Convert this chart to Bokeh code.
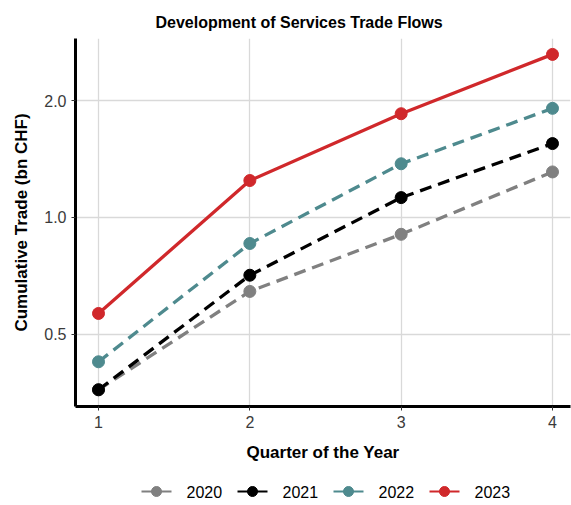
from bokeh.plotting import figure
from bokeh.layouts import column
from bokeh.models import FixedTicker, PrintfTickFormatter, Range1d
from bokeh.core.properties import value
from bokeh.embed import file_html
from bokeh.resources import INLINE

quarters = [1, 2, 3, 4]
years = ["2020", "2021", "2022", "2023"]
v2020 = [0.36, 0.645, 0.905, 1.31]
v2021 = [0.36, 0.71, 1.125, 1.55]
v2022 = [0.425, 0.857, 1.375, 1.91]
v2023 = [0.566, 1.245, 1.85, 2.63]
series = [v2020, v2021, v2022, v2023]
colors = ["#808080", "#000000", "#4E8A8E", "#D0282B"]
dashes = ["12 7", "12 7", "12 7", "solid"]
y_ticks = [0.5, 1.0, 2.0]
x_ticks = [1, 2, 3, 4]

FONT = "Liberation Sans"

p = figure(width=571, height=470, y_axis_type="log",
           x_range=Range1d(0.848, 4.119), y_range=Range1d(0.326, 2.89),
           output_backend="svg", toolbar_location=None,
           min_border_left=75, min_border_right=1, min_border_top=38, min_border_bottom=64,
           title="Development of Services Trade Flows")
p.title.align = "left"
p.title.offset = 80
p.title.standoff = 15
p.title.text_font = FONT
p.title.text_font_size = "16px"
p.title.text_font_style = "bold"
p.title.text_color = "#000000"
p.outline_line_color = None

for yr, vals, c, d in zip(years, series, colors, dashes):
    p.line(quarters, vals, line_color=c, line_width=3.3, line_dash=d)
    p.scatter(quarters, vals, size=12, fill_color=c, line_color=c)

for ax in (p.xaxis[0], p.yaxis[0]):
    ax.axis_line_color = "#000000"
    ax.axis_line_width = 3
    ax.major_tick_line_color = "#333333"
    ax.major_tick_line_width = 1
    ax.major_tick_out = 4
    ax.major_tick_in = 0
    ax.minor_tick_line_color = None
    ax.major_label_text_font = FONT
    ax.major_label_text_font_size = "16px"
    ax.major_label_text_color = "#3A3A3A"
    ax.axis_label_text_font = FONT
    ax.axis_label_text_font_size = "17px"
    ax.axis_label_text_font_style = "bold"
    ax.axis_label_text_color = "#000000"

p.xaxis.ticker = FixedTicker(ticks=x_ticks)
p.yaxis.ticker = FixedTicker(ticks=y_ticks)
p.yaxis.formatter = PrintfTickFormatter(format="%.1f")
p.xaxis.axis_label = "Quarter of the Year"
p.yaxis.axis_label = "Cumulative Trade (bn CHF)"
p.xaxis.axis_label_standoff = 12
p.yaxis.axis_label_standoff = 10

for g in (p.xgrid[0], p.ygrid[0]):
    g.grid_line_color = "#D9D9D9"
    g.grid_line_width = 1.3
p.xgrid.ticker = FixedTicker(ticks=x_ticks)
p.ygrid.ticker = FixedTicker(ticks=y_ticks)

# legend strip below the chart; its frame is aligned with the main frame (75..570 px)
LEG_W, LEG_H = 571, 35
lg = figure(width=LEG_W, height=LEG_H, x_range=Range1d(75, 570), y_range=Range1d(0, LEG_H),
            output_backend="svg", toolbar_location=None,
            x_axis_location=None, y_axis_location=None,
            min_border_left=0, min_border_right=0, min_border_top=0, min_border_bottom=0)
lg.grid.visible = False
lg.outline_line_color = None

start, step, key_w, gap, yc = 141, 96, 30, 15, 14
x0 = [start + i * step for i in range(len(years))]
x1 = [x + key_w for x in x0]
xm = [x + key_w / 2 for x in x0]
xt = [x + key_w + gap for x in x0]
yy = [yc] * len(years)
lg.segment(x0=x0, y0=yy, x1=x1, y1=yy, line_color=colors, line_width=2.2)
lg.scatter(x=xm, y=yy, size=10, fill_color=colors, line_color=colors)
lg.text(x=xt, y=yy, text=years, text_font=value(FONT), text_font_size="16px",
        text_color="#000000", text_baseline="middle", text_align="left")

layout = column(p, lg, spacing=0)
open("out.html", "w").write(file_html(layout, INLINE))
